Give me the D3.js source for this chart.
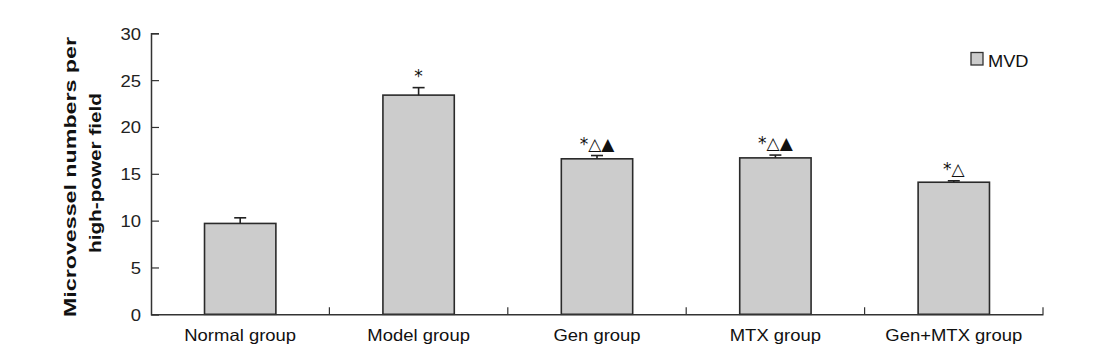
<!DOCTYPE html>
<html><head><meta charset="utf-8">
<script src="https://cdn.jsdelivr.net/npm/d3@7"></script>
<style>body{margin:0;background:#fff}svg{display:block}</style>
</head><body>
<script>
const categories = ["Normal group","Model group","Gen group","MTX group","Gen+MTX group"];
const values = [9.7, 23.4, 16.6, 16.7, 14.1];
const errors = [0.6, 0.8, 0.35, 0.3, 0.15];
const marks = ["", "*", "*△▲", "*△▲", "*△"];
const yTicks = [0,5,10,15,20,25,30];
const seriesName = "MVD";
const yLabelLines = ["Microvessel numbers per","high-power field"];

const W=1115,H=356;
const svg=d3.select("body").append("svg").attr("width",W).attr("height",H);
const x0=151, x1=1043, yB=314.3, yT=33.3;
const x=d3.scaleBand().domain(categories).range([x0,x1]).paddingInner(0.6).paddingOuter(0.3);
const xb=d3.scaleBand().domain(categories).range([x0,x1]);
const y=d3.scaleLinear().domain([0,30]).range([yB,yT]);
const font="Liberation Sans, Arial, sans-serif";
const sx="scale(1.12,1)";

// bars
svg.selectAll("rect.bar").data(values).join("rect").attr("class","bar")
 .attr("x",(d,i)=>x(categories[i])).attr("width",x.bandwidth())
 .attr("y",d=>y(d)).attr("height",d=>yB-y(d))
 .attr("fill","#cccccc").attr("stroke","#2a2a2a").attr("stroke-width",1.6);
// error bars
const eg=svg.append("g").attr("stroke","#222").attr("stroke-width",1.6);
values.forEach((v,i)=>{
  const cx=x(categories[i])+x.bandwidth()/2;
  eg.append("line").attr("x1",cx).attr("x2",cx).attr("y1",y(v)).attr("y2",y(v+errors[i]));
  eg.append("line").attr("x1",cx-6).attr("x2",cx+6).attr("y1",y(v+errors[i])).attr("y2",y(v+errors[i]));
});
// annotations
svg.selectAll("text.mk").data(marks).join("text").attr("class","mk")
 .attr("x",(d,i)=>x(categories[i])+x.bandwidth()/2)
 .attr("y",(d,i)=>y(values[i]+errors[i])-6)
 .attr("text-anchor","middle").attr("font-family","DejaVu Sans, sans-serif")
 .attr("font-size",17).attr("fill","#111").text(d=>d);

// y axis
const ya=svg.append("g").attr("transform",`translate(${x0},0)`)
 .call(d3.axisLeft(y).tickValues(yTicks).tickSize(-8).tickPadding(9));
ya.select(".domain").attr("stroke","#333").attr("stroke-width",1.5);
ya.selectAll(".tick line").attr("stroke","#333").attr("stroke-width",1.2);
ya.selectAll("text").attr("font-family",font).attr("font-size",16.5).attr("fill","#222")
 .attr("transform",sx).attr("dy","0.36em");

// x axis
const xa=svg.append("g").attr("transform",`translate(0,${yB})`)
 .call(d3.axisBottom(xb).tickSize(0).tickPadding(0));
xa.select(".domain").attr("stroke","#333").attr("stroke-width",1.5);
xa.selectAll("text").attr("font-family",font).attr("font-size",16.5).attr("fill","#111")
 .attr("dy",null).attr("y",26.7).attr("transform",sx);
// category separator ticks
const seps=categories.map(c=>xb(c)+xb.bandwidth());
svg.append("g").selectAll("line").data(seps).join("line")
 .attr("x1",d=>d).attr("x2",d=>d).attr("y1",yB).attr("y2",yB-7)
 .attr("stroke","#333").attr("stroke-width",1.2);

// y label
const ylPos=[{x:75.5,c:177,len:280},{x:101,c:173,len:160}];
yLabelLines.forEach((t,i)=>{
  svg.append("text").attr("transform",`translate(${ylPos[i].x},${ylPos[i].c}) rotate(-90) scale(1,0.78)`)
   .attr("text-anchor","middle").attr("font-family",font).attr("font-weight","bold")
   .attr("font-size",22).attr("fill","#111")
   .attr("textLength",ylPos[i].len).attr("lengthAdjust","spacingAndGlyphs").text(t);
});

// legend
svg.append("rect").attr("x",971).attr("y",52.5).attr("width",12).attr("height",12.5)
 .attr("fill","#cccccc").attr("stroke","#333").attr("stroke-width",1.3);
svg.append("text").attr("transform","translate(988,66.5) scale(1.12,1)").attr("font-family",font)
 .attr("font-size",16.3).attr("fill","#111").text(seriesName);
</script>
</body></html>
